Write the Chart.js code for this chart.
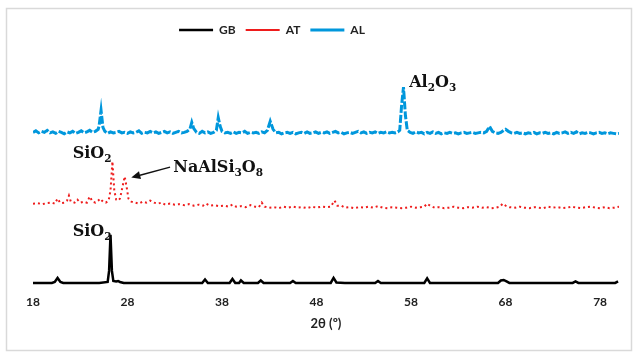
<!DOCTYPE html>
<html>
<head>
<meta charset="utf-8">
<script src="https://cdn.jsdelivr.net/npm/chart.js@4"></script>
<style>
html,body{margin:0;padding:0;background:#fff;}
#wrap{width:638px;height:354px;}
</style>
</head>
<body>
<div id="wrap"><canvas id="c" width="638" height="354"></canvas></div>
<script>
// ---- data (2θ in degrees, intensity in arbitrary offset units) ----
const tickVals = [18, 28, 38, 48, 58, 68, 78];

const gbTheta = [18.0,19.0,20.0,20.3,20.6,20.9,21.2,22,23,24,25,25.9,26.05,26.2,26.35,26.5,26.8,27.0,27.2,27.6,29,30,31,32,33,34,35,35.9,36.2,36.5,37,38,38.8,39.1,39.4,39.8,40.0,40.3,41,41.8,42.1,42.4,43,44,45.2,45.5,45.8,46,47,48,49,49.5,49.8,50.1,51,52,53,54.2,54.5,54.8,56,57,58,59.4,59.7,60.0,61,62,63,64,65,66,67.2,67.5,67.8,68.1,68.4,69,70,71,72,73,74,75.1,75.4,75.7,77,78,79,79.6,79.9];
const gbInt   = [8,8,8,9,13,9,8,8,8,8,8,9,20,56,20,10,9.5,10,9,8,8,8,8,8,8,8,8,8,11.5,8,8,8,8,12,8,8,10.5,8,8,8,10.5,8,8,8,8,10,8,8,8,8,8,8,13,8.5,8,8,8,8,10,8,8,8,8,8,12.5,8,8,8,8,8,8,8,8,10.5,11,9.5,8,8,8,8,8,8,8,8,9.5,8,8,8,8,8,9.5];

const atTheta = [18.0,18.5,19.0,19.5,20.0,20.3,20.6,20.9,21.3,21.6,21.8,22.0,22.4,22.7,23.0,23.4,23.7,24.0,24.3,24.6,24.9,25.1,25.4,25.7,26.0,26.2,26.4,26.6,26.8,27.0,27.2,27.5,27.7,27.9,28.1,28.4,28.8,29.2,29.6,30.0,30.4,30.8,31.2,31.6,32.0,32.5,33.0,33.5,34.0,34.5,35.0,35.5,36.0,36.3,36.7,37.2,37.7,38.2,38.7,39.1,39.5,40.0,40.5,41.0,41.5,41.9,42.2,42.5,43.0,43.5,44.0,44.5,45.0,45.5,46.0,46.5,47.0,47.5,48.0,48.5,49.0,49.5,49.9,50.2,50.6,51.0,51.5,52.0,52.5,53.0,53.5,54.0,54.5,55.0,55.5,56.0,56.5,57.0,57.5,58.0,58.5,59.0,59.4,59.7,60.0,60.5,61.0,61.5,62.0,62.5,63.0,63.5,64.0,64.5,65.0,65.5,66.0,66.5,67.0,67.4,67.7,68.0,68.4,69.0,69.5,70.0,70.5,71.0,71.5,72.0,72.5,73.0,73.5,74.0,74.5,75.0,75.5,76.0,76.5,77.0,77.5,78.0,78.5,79.0,79.5,80.0];
const atInt   = [87,87.5,86.5,87.5,88,87,92,87.5,88,90,95,89,88,91,88,89,88,94,89,88,90,92,89,88,90,100,129,100,91,90,92,105,114,104,92,89,88,87,89,88,90,88,87,88,86,87,86,86.5,85.5,86.5,85,86,85,87,85,85.5,84.5,85,84,86,84,84.5,83.5,85.5,84,83.5,88,84,83,83.5,82.5,84,83,84,83,83.5,82.5,84,83,84,83.5,84,90,85,85,83,83.5,82.5,83.5,83,84,83,84.5,83,82.5,83.5,83,82.5,83,84,83,83.5,84,87,85,83,83.5,82.5,83,84,83,82.5,83.5,83,84,83,83.5,82.5,83,84,87,85,83.5,83,84,83,82.5,83.5,83,82.5,84,83,83.5,82.5,83,84,83,82.5,83.5,84,83,82.5,83.5,82.5,83,84];

const alTheta = [18.0,18.3,18.6,18.9,19.2,19.5,19.8,20.1,20.4,20.7,21.0,21.3,21.6,21.9,22.2,22.5,22.8,23.1,23.4,23.7,24.0,24.3,24.6,24.9,25.0,25.2,25.4,25.6,25.9,26.2,26.5,26.8,27.1,27.4,27.7,28.0,28.3,28.6,28.9,29.2,29.5,29.8,30.1,30.4,30.7,31.0,31.3,31.6,31.9,32.2,32.5,32.8,33.1,33.4,33.7,34.0,34.3,34.6,34.8,35.0,35.3,35.6,35.9,36.2,36.5,36.8,37.1,37.4,37.6,37.8,38.0,38.3,38.6,38.9,39.2,39.5,39.8,40.1,40.4,40.7,41.0,41.3,41.6,41.9,42.2,42.5,42.8,43.1,43.4,43.7,44.0,44.3,44.6,44.9,45.2,45.5,45.8,46.1,46.4,46.7,47.0,47.3,47.6,47.9,48.2,48.5,48.8,49.1,49.4,49.7,50.0,50.3,50.6,50.9,51.2,51.5,51.8,52.1,52.4,52.7,53.0,53.3,53.6,53.9,54.2,54.5,54.8,55.1,55.4,55.7,56.0,56.3,56.6,56.8,57.0,57.2,57.4,57.6,57.9,58.2,58.5,58.8,59.1,59.4,59.7,60.0,60.3,60.6,60.9,61.2,61.5,61.8,62.1,62.4,62.7,63.0,63.3,63.6,63.9,64.2,64.5,64.8,65.1,65.4,65.7,66.0,66.3,66.6,66.9,67.2,67.5,67.8,68.0,68.3,68.6,68.9,69.2,69.5,69.8,70.1,70.4,70.7,71.0,71.3,71.6,71.9,72.2,72.5,72.8,73.1,73.4,73.7,74.0,74.3,74.6,74.9,75.2,75.5,75.8,76.1,76.4,76.7,77.0,77.3,77.6,77.9,78.2,78.5,78.8,79.1,79.4,79.7,80.0];
const alInt   = [158,159.5,157.5,159,158,160,157.5,158.5,157,159,158,156.5,158.5,157.5,159,157,158,159.5,157.5,158.5,160,158,159,161,165,180,163,159,157,158.5,157.5,158,159,157.5,158,157,158.5,157.5,158,159.5,157,158,157.5,159,157.5,158.5,157,158,159,157.5,158.5,157,158,159,157.5,158,159,161,168,162,158,157,159,157.5,158.5,157,158,160,172.7,164,159,157.5,158,157,158.5,157,158,157.5,159,157,158,157.5,158,157,158.5,157.5,160,169,161,157.5,158,156.5,157.5,158,157,158,156.5,157.5,158,157,158.5,157,157.5,158.5,157,158,157.5,158.5,157,158,159,157.5,158,156.5,157.5,158,157,158,159,157.5,158.5,157,158,157.5,158.5,157,158,157.5,158.5,157.5,158,157.5,158.5,160,185,203,175,160,158,157,158.5,157.5,158,156.5,158,157,158.5,157,158,156.5,157.5,157,158,157,157.5,156.5,157.5,158,157,157.5,158,157,157.5,158,157.5,159,164,159,157.5,157,158,160,161,159,157.5,157,158,157,157.5,156.5,157.5,157,158,156.5,157.5,157,158,157,157.5,156.5,158,157,157.5,158.5,157,158,157,158.5,156.5,157.5,157,158,157.5,156.5,157.5,158,157,157.5,156.5,157.5,157,156.5,157];

// phase labels: [text parts, theta, intensity]  parts: [text, isSubscript]
const phaseLabels = [
  {parts: [['Al',0],['2',1],['O',0],['3',1]], theta: 57.8, inten: 203.3},
  {parts: [['SiO',0],['2',1]], theta: 22.2, inten: 132.7},
  {parts: [['NaAlSi',0],['3',1],['O',0],['8',1]], theta: 32.85, inten: 118.3},
  {parts: [['SiO',0],['2',1]], theta: 22.2, inten: 55}
];
const arrowFrom = [32.5, 123.3];
const arrowTo = [28.4, 113];

function pts(xs, ys){ return xs.map((x,i)=>({x:x, y:ys[i]})); }

const bgPlugin = {
  id:'bg',
  afterLayout(chart){
    // legend in the original sits left of centre
    if (chart.legend) { chart.legend.left -= 54; chart.legend.right -= 54; }
  },
  beforeDraw(chart){
    const ctx = chart.ctx;
    ctx.save();
    ctx.fillStyle = '#fff';
    ctx.fillRect(0,0,chart.width,chart.height);
    ctx.strokeStyle = '#d9d9d9';
    ctx.lineWidth = 1.5;
    ctx.strokeRect(6.5, 8.5, 625, 342);
    ctx.restore();
  }
};

const labelPlugin = {
  id:'labels',
  afterDatasetsDraw(chart){
    const ctx = chart.ctx, xs = chart.scales.x, ys = chart.scales.y;
    ctx.save();
    ctx.fillStyle = '#111';
    ctx.textBaseline = 'alphabetic';
    ctx.textAlign = 'left';
    phaseLabels.forEach(l => {
      let x = xs.getPixelForValue(l.theta);
      const y = ys.getPixelForValue(l.inten);
      l.parts.forEach(([t, sub]) => {
        ctx.font = sub ? 'bold 10.5px "DejaVu Serif"' : 'bold 16px "DejaVu Serif"';
        ctx.fillText(t, x, sub ? y + 4 : y);
        x += ctx.measureText(t).width;
      });
    });
    // arrow
    const x1 = xs.getPixelForValue(arrowFrom[0]), y1 = ys.getPixelForValue(arrowFrom[1]);
    const x2 = xs.getPixelForValue(arrowTo[0]), y2 = ys.getPixelForValue(arrowTo[1]);
    const ang = Math.atan2(y2-y1, x2-x1);
    const hl = 9, hw = 4;
    const bx = x2 - Math.cos(ang)*hl, by = y2 - Math.sin(ang)*hl;
    ctx.strokeStyle = '#111';
    ctx.lineWidth = 1.4;
    ctx.beginPath(); ctx.moveTo(x1,y1); ctx.lineTo(bx,by); ctx.stroke();
    ctx.beginPath();
    ctx.moveTo(x2,y2);
    ctx.lineTo(bx - Math.sin(ang)*hw, by + Math.cos(ang)*hw);
    ctx.lineTo(bx + Math.sin(ang)*hw, by - Math.cos(ang)*hw);
    ctx.closePath(); ctx.fill();
    ctx.restore();
  }
};

new Chart(document.getElementById('c'), {
  type:'line',
  data:{
    datasets:[
      {label:'GB', data:pts(gbTheta, gbInt), borderColor:'#000', backgroundColor:'#000', borderWidth:2.5, pointRadius:0, tension:0},
      {label:'AT', data:pts(atTheta, atInt), borderColor:'#ee1c1c', backgroundColor:'#ee1c1c', borderWidth:2, borderDash:[2,3], pointRadius:0, tension:0},
      {label:'AL', data:pts(alTheta, alInt), borderColor:'#0097dc', backgroundColor:'#0097dc', borderWidth:3, borderDash:[8,2], pointRadius:0, tension:0}
    ]
  },
  options:{
    responsive:false, animation:false, events:[],
    layout:{padding:{left:33, right:19, top:14, bottom:18}},
    plugins:{
      legend:{display:true, position:'top',
        labels:{usePointStyle:true, pointStyle:'line', pointStyleWidth:34, padding:10, color:'#222',
          font:{family:'Lato', weight:'bold', size:12}}},
      tooltip:{enabled:false}
    },
    scales:{
      x:{type:'linear', min:18, max:80,
        afterBuildTicks: axis => { axis.ticks = tickVals.map(v => ({value:v})); },
        grid:{display:false, drawTicks:false}, border:{display:false},
        ticks:{padding:4, color:'#222', font:{family:'Lato', weight:'bold', size:12}},
        title:{display:true, text:'2θ (º)', color:'#222', padding:{top:3, bottom:4}, font:{family:'Lato', weight:'bold', size:13}}
      },
      y:{display:false, min:0, max:244}
    }
  },
  plugins:[bgPlugin, labelPlugin]
});
</script>
</body>
</html>
